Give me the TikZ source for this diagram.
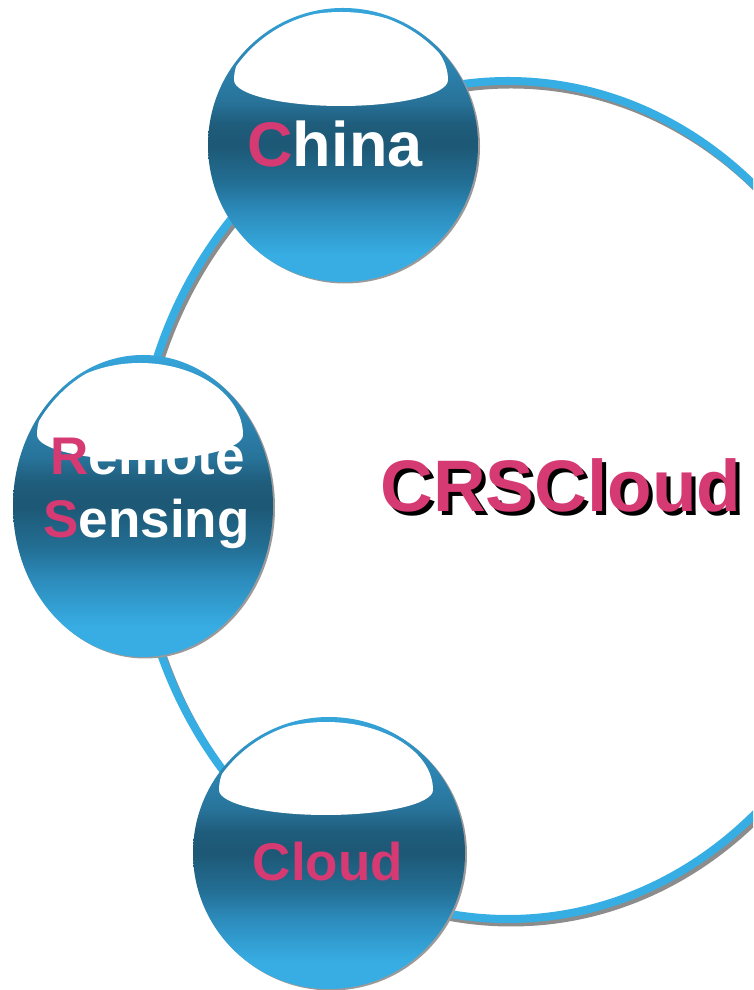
\documentclass[tikz,border=0pt]{standalone}
\usepackage{fontspec}
\setmainfont{Liberation Sans}
\usepackage{tikz}

\definecolor{ringblue}{HTML}{36AEE3}
\definecolor{ringshadow}{HTML}{8C8C8C}
\definecolor{ballshadow}{HTML}{9A9A9A}
\definecolor{crspink}{HTML}{D63A72}
\definecolor{ballA}{HTML}{37ADE3}
\definecolor{ballB}{HTML}{2C8BBB}
\definecolor{ballC}{HTML}{236F95}
\definecolor{ballD}{HTML}{1D5875}
\definecolor{ballE}{HTML}{1F5D7C}
\definecolor{ballF}{HTML}{28739A}
\definecolor{ballG}{HTML}{2E8CBB}
\definecolor{ballH}{HTML}{35A6DC}

\pgfdeclareverticalshading{ballshade}{100bp}{color(0bp)=(ballA); color(25bp)=(ballA); color(30bp)=(ballA); color(38bp)=(ballB); color(43bp)=(ballC); color(50bp)=(ballD); color(54bp)=(ballE); color(58bp)=(ballF); color(68bp)=(ballG); color(75bp)=(ballH); color(100bp)=(ballH)}

\tikzset{
  balltext/.style={anchor=base, inner sep=0pt, text=white},
  logotext/.style={anchor=base, inner sep=0pt, text=crspink, font=\bfseries\fontsize{73pt}{73pt}\selectfont}
}

% ball: centre, radii, shine centre, shine radii (x:top:bottom)
\def\ball(#1,#2)(#3:#4)(#5,#6)(#7:#8:#9){%
  \fill[ballshadow] ({#1+2},{#2-1.5}) ellipse ({#3pt} and {#4pt});
  \shade[shading=ballshade] (#1,#2) ellipse ({#3pt} and {#4pt});
  \begin{scope}
    \clip (#1,#2) ellipse ({#3pt-3pt} and {#4pt-3pt});
    \fill[white] ({#5-#7},#6) arc[start angle=180, end angle=0, x radius=#7pt, y radius=#8pt]
      arc[start angle=0, end angle=-180, x radius=#7pt, y radius=#9pt] -- cycle;
  \end{scope}}
% text with a black drop shadow
\def\shadowed#1{\rlap{\kern4pt\raisebox{-4pt}{\textcolor{black}{#1}}}#1}

\begin{document}
\begin{tikzpicture}[x=1pt, y=1pt]
			%%%%% START %%%%%
			\useasboundingbox (0,0) rectangle (753,990);
			\clip (0,0) rectangle (753,990);
			
			\draw[line width=7pt, color=ringshadow] (511,486) ellipse (373pt and 419pt);
			\draw[line width=8pt, color=ringblue] (508,490) ellipse (373pt and 419pt);
			
			\ball(343,845)(135:137)(341,910)(107:68:26)
			\ball(143,484)(130:151)(140,555)(103:72:25)
			\ball(329,137)(136:136)(326,200)(107:68:25)
			
			\node[balltext, font=\bfseries\fontsize{63pt}{63pt}\selectfont] (china) at (335,823) {\textcolor{crspink}{C}hina};
			\node[balltext, font=\bfseries\fontsize{53pt}{53pt}\selectfont] (remote) at (147.5,515) {\textcolor{crspink}{R}emote};
			\node[balltext, font=\bfseries\fontsize{53pt}{53pt}\selectfont] (sensing) at (146.5,452) {\textcolor{crspink}{S}ensing};
			\node[balltext, text=crspink, font=\bfseries\fontsize{53pt}{53pt}\selectfont] (cloud) at (328,109) {Cloud};
			
			\node[logotext] (logo) at (561,478) {\shadowed{CRSCloud}};
			
			%%%%% END %%%%%
\end{tikzpicture}
\end{document}
